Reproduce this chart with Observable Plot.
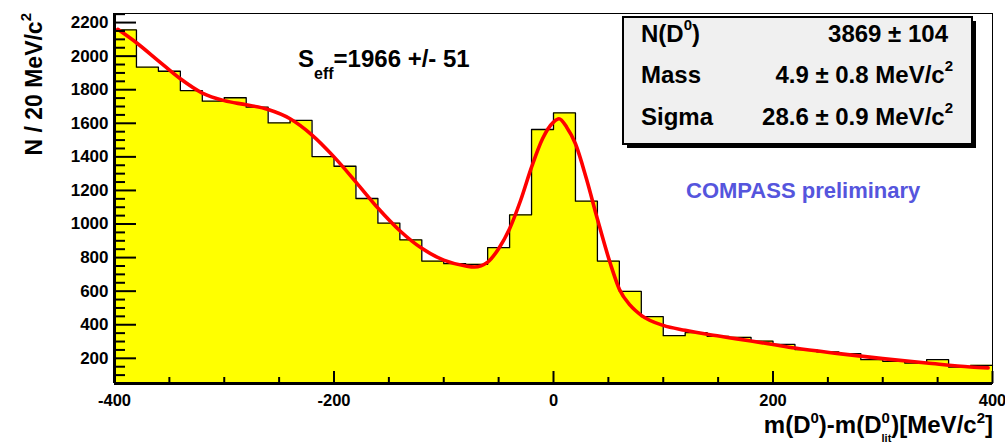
<!DOCTYPE html>
<html><head><meta charset="utf-8">
<script src="https://cdn.jsdelivr.net/npm/d3@7"></script>
<script src="https://cdn.jsdelivr.net/npm/@observablehq/plot@0.6"></script>
<style>
html,body{margin:0;padding:0;background:#fff;}
#chart{position:relative;width:1005px;height:445px;overflow:hidden;}
</style></head><body><div id="chart"></div>
<script>
// ---- data ----
const binStart = [-400,-380,-360,-340,-320,-300,-280,-260,-240,-220,-200,-180,-160,-140,-120,-100,-80,-60,-40,-20,
                  0,20,40,60,80,100,120,140,160,180,200,220,240,260,280,300,320,340,360,380];
const binWidth = 20;
const counts = [2157,1934,1910,1795,1732,1752,1696,1602,1617,1402,1344,1152,1005,906,779,764,760,859,1055,1563,
                1662,1136,779,599,448,335,353,331,325,303,283,252,238,228,192,182,172,192,148,158];
const fitX = [-397,-380,-360,-340,-320,-300,-280,-260,-240,-220,-200,-180,-160,-140,-120,-100,-80,-72,-60,-50,
              -40,-30,-20,-10,0,5,12,20,30,40,52,60,70,80,100,120,140,160,180,200,220,260,300,340,380,396];
const fitY = [2160,2080,1972,1865,1780,1735,1710,1682,1627,1530,1400,1250,1095,960,855,785,750,744,773,853,
              972,1140,1339,1508,1607,1627,1577,1478,1270,1030,760,612,515,456,396,367,343,323,303,282,261,228,198,172,148,143];
const xMajor = [-400,-200,0,200,400];
const xMinor = [-350,-300,-250,-150,-100,-50,50,100,150,250,300,350];
const yMajor = [200,400,600,800,1000,1200,1400,1600,1800,2000,2200];
const yMinor = [100,150,250,300,350,450,500,550,650,700,750,850,900,950,1050,1100,1150,1250,1300,1350,
                1450,1500,1550,1650,1700,1750,1850,1900,1950,2050,2100,2150,2250];
const statLabels = ["N(D", "Mass", "Sigma"];
const statLabelSup = ["0", "", ""];
const statLabelTail = [")", "", ""];
const statValues = ["3869 \u00b1 104", "4.9 \u00b1 0.8 MeV/c", "28.6 \u00b1 0.9 MeV/c"];
const statValueSup = ["", "2", "2"];
const seffText = ["S", "eff", "=1966 +/- 51"];
const prelimText = "COMPASS preliminary";
const yTitle = ["N / 20 MeV/c", "2"];

// ---- layout ----
const W = 1005, H = 445, mL = 114, mR = 13, mT = 13, mB = 62;
const fw = W - mL - mR, fh = H - mT - mB;
const xDomain = [-400, 400], yDomain = [50, 2254];
const FONT = "'Liberation Sans', Arial, Helvetica, sans-serif";

const steps = binStart.map((x, i) => ({x, n: counts[i]}));
steps.push({x: binStart[binStart.length - 1] + binWidth, n: counts[counts.length - 1]});
const fit = fitX.map((x, i) => ({x, y: fitY[i]}));

const plot = Plot.plot({
  width: W, height: H,
  marginLeft: mL, marginRight: mR, marginTop: mT, marginBottom: mB,
  x: {domain: xDomain},
  y: {domain: yDomain},
  style: {fontFamily: FONT, fontWeight: "bold", background: "#fff", color: "#000"},
  marks: [
    Plot.areaY(steps, {x: "x", y: "n", curve: "step-after", fill: "#ffff00", clip: true}),
    Plot.line(steps, {x: "x", y: "n", curve: "step-after", stroke: "#000", strokeWidth: 1.3}),
    Plot.line(fit, {x: "x", y: "y", curve: "monotone-x", stroke: "#ff0000", strokeWidth: 3.6, clip: true}),
    Plot.frame({stroke: "#000", strokeWidth: 1}),
    Plot.ruleX(xMajor, {stroke: "#000", strokeWidth: 2, insetTop: fh - 12}),
    Plot.ruleX(xMinor, {stroke: "#000", strokeWidth: 2, insetTop: fh - 6}),
    Plot.ruleY(yMajor, {stroke: "#000", strokeWidth: 2, insetRight: fw - 22}),
    Plot.ruleY(yMinor, {stroke: "#000", strokeWidth: 2, insetRight: fw - 11}),
    Plot.ruleX([xDomain[0]], {stroke: "#000", strokeWidth: 3}),
    Plot.ruleY([yDomain[0]], {stroke: "#000", strokeWidth: 3}),
    Plot.axisX({ticks: xMajor, tickSize: 0, tickPadding: 11, fontSize: 16.5, fontWeight: "bold", label: null, tickFormat: d => String(d)}),
    Plot.axisY({ticks: yMajor, tickSize: 0, tickPadding: 6, fontSize: 17, fontWeight: "bold", label: null, tickFormat: d => String(d)})
  ]
});
document.getElementById("chart").appendChild(plot);

// ---- annotations ----
const svg = d3.select(plot);
const g = svg.append("g").attr("font-family", FONT).attr("font-weight", "bold")
  .attr("fill", "#000").attr("text-anchor", "start");

// S_eff
const seff = g.append("text").attr("x", 298).attr("y", 67).attr("font-size", 24).attr("text-anchor", "start");
seff.append("tspan").text(seffText[0]);
seff.append("tspan").attr("font-size", 16).attr("dy", 12).text(seffText[1]);
seff.append("tspan").attr("dy", -12).text(seffText[2]);

// COMPASS preliminary
g.append("text").attr("x", 686).attr("y", 198).attr("font-size", 22).attr("text-anchor", "start")
  .attr("fill", "#5555dd").text(prelimText);

// stats box
g.append("rect").attr("x", 627).attr("y", 21).attr("width", 349).attr("height", 127).attr("fill", "#000");
g.append("rect").attr("x", 623).attr("y", 17).attr("width", 349).attr("height", 127)
  .attr("fill", "#f0f0f0").attr("stroke", "#000").attr("stroke-width", 2);
const rowBase = [41.7, 83.3, 125];
statLabels.forEach((lab, i) => {
  const t = g.append("text").attr("x", 641).attr("y", rowBase[i]).attr("font-size", 24).attr("text-anchor", "start");
  t.append("tspan").text(lab);
  if (statLabelSup[i]) {
    t.append("tspan").attr("font-size", 15).attr("dy", -12).text(statLabelSup[i]);
    t.append("tspan").attr("dy", 12).text(statLabelTail[i]);
  }
  const v = g.append("text").attr("x", statValueSup[i] ? 953 : 948).attr("y", rowBase[i])
    .attr("font-size", 24).attr("text-anchor", "end");
  v.append("tspan").text(statValues[i]);
  if (statValueSup[i]) v.append("tspan").attr("font-size", 15).attr("dy", -12).text(statValueSup[i]);
});

// x title
const xt = g.append("text").attr("x", 993).attr("y", 433).attr("font-size", 24).attr("text-anchor", "end");
xt.append("tspan").text("m(D");
xt.append("tspan").attr("font-size", 15).attr("dy", -10).text("0");
xt.append("tspan").attr("dy", 10).text(")-m(D");
xt.append("tspan").attr("font-size", 15).attr("dy", -10).text("0");
xt.append("tspan").attr("font-size", 11).attr("dx", -8.3).attr("dy", 19).text("lit");
xt.append("tspan").attr("dy", -9).text(")[MeV/c");
xt.append("tspan").attr("font-size", 15).attr("dy", -10).text("2");
xt.append("tspan").attr("dy", 10).text("]");

// y title
const yt = g.append("text").attr("transform", "translate(42,13) rotate(-90)")
  .attr("font-size", 23).attr("text-anchor", "end");
yt.append("tspan").text(yTitle[0]);
yt.append("tspan").attr("font-size", 15).attr("dy", -11).text(yTitle[1]);
</script>
</body></html>
